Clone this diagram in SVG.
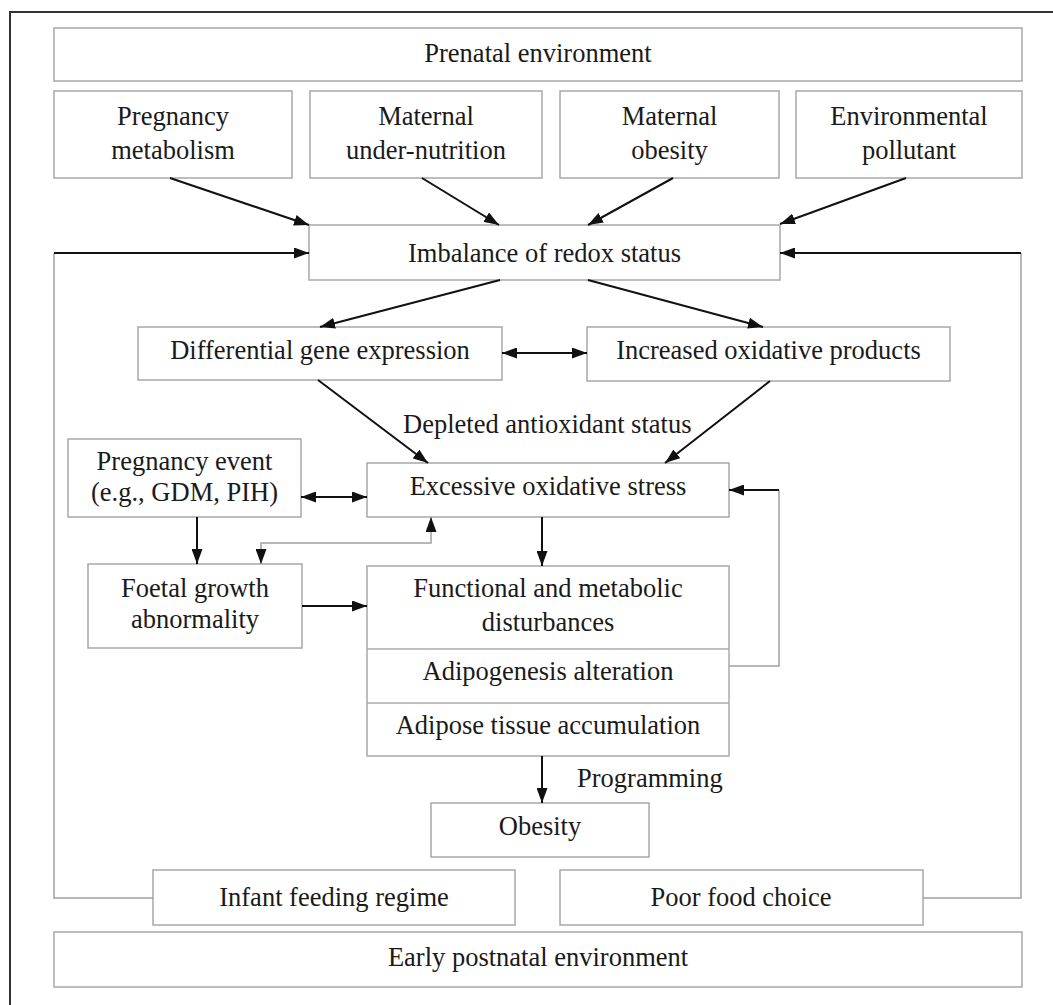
<svg xmlns="http://www.w3.org/2000/svg" width="1053" height="1005" viewBox="0 0 1053 1005">
<style>
.box{fill:#fff;stroke:#a8a8a8;stroke-width:1.5}
.t{font-family:"Liberation Serif","Times New Roman",serif;font-size:26.5px;fill:#1a1a1a;text-anchor:middle}
.lbl{font-family:"Liberation Serif","Times New Roman",serif;font-size:26.5px;fill:#1a1a1a}
.c{fill:none;stroke:#111;stroke-width:2}
.g{fill:none;stroke:#a0a0a0;stroke-width:1.5}
</style>
<defs>
<marker id="ah" markerUnits="userSpaceOnUse" markerWidth="15" markerHeight="11" refX="15" refY="5.5" orient="auto-start-reverse">
<path d="M0,0 L15,5.5 L0,11 z" fill="#111"/>
</marker>
</defs>
<rect width="1053" height="1005" fill="#fff"/>
<path d="M10,1005 V12 H1053" fill="none" stroke="#333" stroke-width="2"/>

<g id="prenatal"><rect class="box" x="54" y="28" width="968" height="53"/><text class="t" x="538" y="62">Prenatal environment</text></g>
<g id="pregnancy-metabolism"><rect class="box" x="54" y="91" width="238" height="87"/><text class="t" x="173" y="125">Pregnancy</text><text class="t" x="173" y="159">metabolism</text></g>
<g id="maternal-undernutrition"><rect class="box" x="310" y="91" width="232" height="87"/><text class="t" x="426" y="125">Maternal</text><text class="t" x="426" y="159">under-nutrition</text></g>
<g id="maternal-obesity"><rect class="box" x="560" y="91" width="219" height="87"/><text class="t" x="669.5" y="125">Maternal</text><text class="t" x="669.5" y="159">obesity</text></g>
<g id="environmental-pollutant"><rect class="box" x="796" y="91" width="226" height="87"/><text class="t" x="909" y="125">Environmental</text><text class="t" x="909" y="159">pollutant</text></g>
<g id="imbalance"><rect class="box" x="309" y="225" width="471" height="55"/><text class="t" x="544.5" y="262">Imbalance of redox status</text></g>
<g id="diff-gene"><rect class="box" x="138" y="327" width="364" height="53"/><text class="t" x="320" y="359">Differential gene expression</text></g>
<g id="increased-oxidative"><rect class="box" x="587" y="327" width="363" height="54"/><text class="t" x="768.5" y="359">Increased oxidative products</text></g>
<g id="depleted-label"><text class="lbl" x="403" y="433">Depleted antioxidant status</text></g>
<g id="pregnancy-event"><rect class="box" x="68" y="439" width="233" height="78"/><text class="t" x="184.5" y="470">Pregnancy event</text><text class="t" x="184.5" y="501">(e.g., GDM, PIH)</text></g>
<g id="excessive-stress"><rect class="box" x="367" y="463" width="362" height="54"/><text class="t" x="548" y="495">Excessive oxidative stress</text></g>
<g id="foetal-growth"><rect class="box" x="88" y="564" width="214" height="84"/><text class="t" x="195" y="597">Foetal growth</text><text class="t" x="195" y="628">abnormality</text></g>
<g id="functional-stack">
<rect class="box" x="367" y="566" width="362" height="190"/>
<line class="box" x1="367" y1="649" x2="729" y2="649"/>
<line class="box" x1="367" y1="703" x2="729" y2="703"/>
<text class="t" x="548" y="597">Functional and metabolic</text><text class="t" x="548" y="631">disturbances</text>
<text class="t" x="548" y="680">Adipogenesis alteration</text>
<text class="t" x="548" y="734">Adipose tissue accumulation</text>
</g>
<g id="programming-label"><text class="lbl" x="577" y="787">Programming</text></g>
<g id="obesity"><rect class="box" x="431" y="803" width="218" height="54"/><text class="t" x="540" y="835">Obesity</text></g>
<g id="infant-feeding"><rect class="box" x="153" y="870" width="362" height="55"/><text class="t" x="334" y="906">Infant feeding regime</text></g>
<g id="poor-food"><rect class="box" x="560" y="870" width="363" height="55"/><text class="t" x="741" y="906">Poor food choice</text></g>
<g id="postnatal"><rect class="box" x="54" y="932" width="968" height="55"/><text class="t" x="538" y="966">Early postnatal environment</text></g>

<g id="connectors">
<line class="c" x1="170" y1="178" x2="309" y2="225" marker-end="url(#ah)"/>
<line class="c" x1="422" y1="178" x2="499" y2="225" marker-end="url(#ah)"/>
<line class="c" x1="673" y1="178" x2="588" y2="225" marker-end="url(#ah)"/>
<line class="c" x1="906" y1="178" x2="780" y2="224" marker-end="url(#ah)"/>
<path class="g" d="M153,898 H54 V253"/>
<line class="c" x1="54" y1="253" x2="309" y2="253" marker-end="url(#ah)"/>
<path class="g" d="M923,898 H1021 V253"/>
<line class="c" x1="1021" y1="253" x2="780" y2="253" marker-end="url(#ah)"/>
<line class="c" x1="500" y1="280" x2="320" y2="327" marker-end="url(#ah)"/>
<line class="c" x1="588" y1="280" x2="763" y2="327" marker-end="url(#ah)"/>
<line class="c" x1="502" y1="353" x2="587" y2="353" marker-start="url(#ah)" marker-end="url(#ah)"/>
<line class="c" x1="318" y1="380" x2="428" y2="463" marker-end="url(#ah)"/>
<line class="c" x1="770" y1="381" x2="665" y2="463" marker-end="url(#ah)"/>
<line class="c" x1="301" y1="497" x2="367" y2="497" marker-start="url(#ah)" marker-end="url(#ah)"/>
<line class="c" x1="197" y1="517" x2="197" y2="564" marker-end="url(#ah)"/>
<path class="g" d="M431,517 V543 H261 V564" marker-start="url(#ah)" marker-end="url(#ah)"/>
<line class="c" x1="302" y1="606" x2="367" y2="606" marker-end="url(#ah)"/>
<line class="c" x1="542" y1="517" x2="542" y2="566" marker-end="url(#ah)"/>
<path class="g" d="M729,666 H779 V490"/>
<line class="c" x1="779" y1="490" x2="729" y2="490" marker-end="url(#ah)"/>
<line class="c" x1="542" y1="756" x2="542" y2="803" marker-end="url(#ah)"/>
</g>
</svg>
